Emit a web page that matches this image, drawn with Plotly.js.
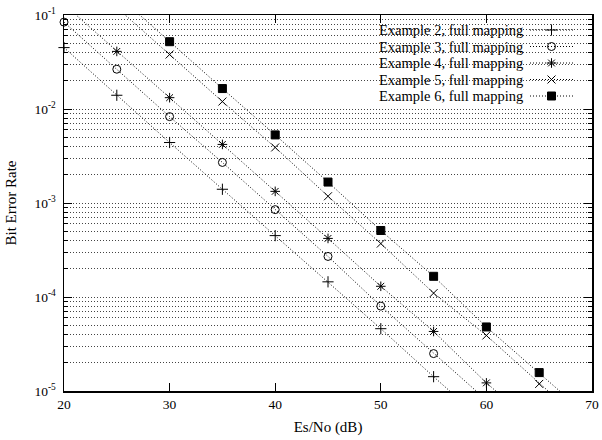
<!DOCTYPE html>
<html>
<head>
<meta charset="utf-8">
<script src="https://cdn.plot.ly/plotly-3.0.1.min.js"></script>
<style>html,body{margin:0;padding:0;background:#fff;}#chart{width:602px;height:440px;}</style>
</head>
<body>
<div id="chart"></div>
<script>
// ---- data ----
const seriesNames = ["Example 2, full mapping","Example 3, full mapping","Example 4, full mapping","Example 5, full mapping","Example 6, full mapping"];
const ex2X = [20,25,30,35,40,45,50,55,60];
const ex2Y = [4.5e-2,1.4e-2,4.4e-3,1.4e-3,4.5e-4,1.45e-4,4.6e-5,1.42e-5,4.5e-6];
const ex3X = [20,25,30,35,40,45,50,55,60];
const ex3Y = [8.4e-2,2.65e-2,8.3e-3,2.7e-3,8.5e-4,2.7e-4,8.0e-5,2.5e-5,8.0e-6];
const ex4X = [20,25,30,35,40,45,50,55,60,65];
const ex4Y = [1.3e-1,4.1e-2,1.32e-2,4.2e-3,1.33e-3,4.2e-4,1.3e-4,4.3e-5,1.22e-5,4.0e-6];
const ex5X = [25,30,35,40,45,50,55,60,65,70];
const ex5Y = [1.2e-1,3.8e-2,1.2e-2,3.9e-3,1.18e-3,3.7e-4,1.1e-4,3.9e-5,1.19e-5,3.8e-6];
const ex6X = [25,30,35,40,45,50,55,60,65,70];
const ex6Y = [1.65e-1,5.2e-2,1.65e-2,5.3e-3,1.67e-3,5.1e-4,1.66e-4,4.8e-5,1.57e-5,5.0e-6];
const xTickVals = [20,30,40,50,60,70];
const yTickVals = [1e-1,1e-2,1e-3,1e-4,1e-5];
const yTickText = ["10<sup>-1</sup>","10<sup>-2</sup>","10<sup>-3</sup>","10<sup>-4</sup>","10<sup>-5</sup>"];
const yMinorVals = [];
[1e-5,1e-4,1e-3,1e-2].forEach(d => { for (let m = 2; m <= 9; m++) yMinorVals.push(m*d); });

// ---- styles ----
const symbols = ["cross-thin-open","circle-open","asterisk-open","x-thin-open","square"];
const sizes = [8,8,8,8,8];
const DOT = "1px,2px";
const yMin = 1e-5, yMax = 1e-1;
const FONT = 'Liberation Serif, Times New Roman, serif';

const xs = [ex2X,ex3X,ex4X,ex5X,ex6X];
const ys = [ex2Y,ex3Y,ex4Y,ex5Y,ex6Y];

const traces = [];
xs.forEach((X,i) => {
  const Y = ys[i];
  traces.push({x:X, y:Y, type:'scatter', mode:'lines', showlegend:false, hoverinfo:'skip',
    line:{color:'#000', width:1, dash:DOT}});
  const mx = [], my = [];
  X.forEach((v,k) => { if (Y[k] >= yMin*0.98 && Y[k] <= yMax*1.02) { mx.push(v); my.push(Y[k]); } });
  traces.push({x:mx, y:my, type:'scatter', mode:'markers', name:seriesNames[i], showlegend:false,
    cliponaxis:false,
    marker:{symbol:symbols[i], size:sizes[i], color:'#000', line:{color:'#000', width:1}}});
});

// custom legend (text on the left, sample on the right, like the reference)
const annotations = [];
const rowTop = 30, rowStep = 16.5, plotTop = 15, plotH = 376, plotL = 64, plotW = 528;
seriesNames.forEach((name,i) => {
  const yc = 1 - ((rowTop + i*rowStep) - plotTop)/plotH;
  annotations.push({xref:'paper', yref:'paper', x:(525-plotL)/plotW, y:yc, xanchor:'right', yanchor:'middle',
    text:name, showarrow:false, font:{family:FONT, size:14.5, color:'#000'}});
  const x0 = (530-plotL)/plotW, x1 = (573-plotL)/plotW;
  traces.push({x:[x0,x1], y:[yc,yc], xaxis:'x2', yaxis:'y2', type:'scatter', mode:'lines', showlegend:false,
    hoverinfo:'skip', line:{color:'#000', width:1, dash:DOT}});
  traces.push({x:[(x0+x1)/2], y:[yc], xaxis:'x2', yaxis:'y2', type:'scatter', mode:'markers', showlegend:false,
    hoverinfo:'skip', cliponaxis:false,
    marker:{symbol:symbols[i], size:sizes[i], color:'#000', line:{color:'#000', width:1}}});
});

const layout = {
  width:602, height:440,
  margin:{l:64, r:10, t:15, b:49},
  paper_bgcolor:'#fff', plot_bgcolor:'#fff',
  font:{family:FONT, size:14, color:'#000'},
  showlegend:false,
  xaxis:{range:[20,70], tickmode:'array', tickvals:xTickVals, ticks:'inside', ticklen:8, tickwidth:1, tickcolor:'#000',
    showline:true, linecolor:'#000', linewidth:1.5, mirror:'ticks', showgrid:false, zeroline:false,
    tickfont:{family:FONT, size:13.5}, ticklabelstandoff:0,
    title:{text:'Es/No (dB)', standoff:11, font:{family:FONT, size:15}}},
  yaxis:{type:'log', range:[-5,-1], tickmode:'array', tickvals:yTickVals, ticktext:yTickText,
    ticks:'inside', ticklen:8, tickwidth:1, tickcolor:'#000',
    showline:true, linecolor:'#000', linewidth:1.5, mirror:'ticks', zeroline:false,
    showgrid:true, gridcolor:'#444', gridwidth:1, griddash:DOT,
    minor:{tickmode:'array', tickvals:yMinorVals, ticks:'inside', ticklen:4, tickcolor:'#000',
      showgrid:true, gridcolor:'#444', gridwidth:1, griddash:DOT},
    tickfont:{family:FONT, size:13.5}, ticklabelstandoff:4,
    title:{text:'Bit Error Rate', standoff:14, font:{family:FONT, size:15}}},
  xaxis2:{overlaying:'x', anchor:'y2', side:'top', range:[0,1], visible:false, fixedrange:true},
  yaxis2:{overlaying:'y', anchor:'x2', side:'right', range:[0,1], visible:false, fixedrange:true},
  shapes:[{type:'rect', xref:'paper', yref:'paper', x0:(345-plotL)/plotW, x1:(585-plotL)/plotW,
    y0:1-(102-plotTop)/plotH, y1:0.997, fillcolor:'#fff', line:{width:0}, layer:'between'}],
  annotations:annotations
};

Plotly.newPlot('chart', traces, layout, {staticPlot:true, displayModeBar:false});
</script>
</body>
</html>
